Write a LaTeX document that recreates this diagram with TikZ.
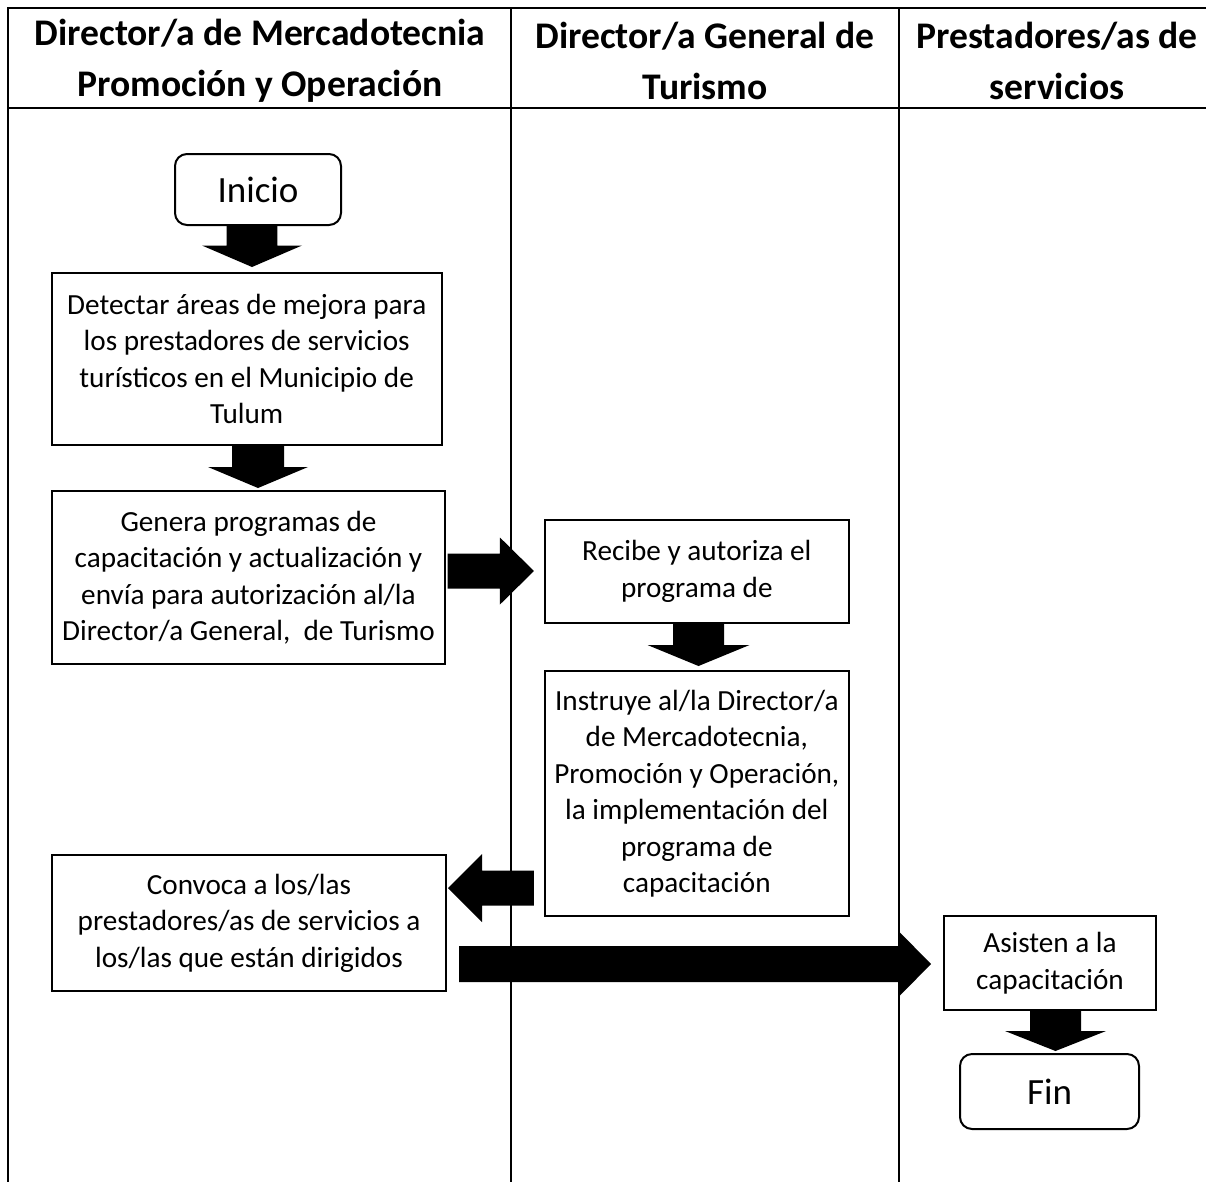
\documentclass[tikz,border=0pt]{standalone}
\usepackage{fontspec}
\setmainfont{Carlito}
\usetikzlibrary{calc}
\tikzset{
  box/.style={draw, line width=2pt, align=center, inner sep=0pt, font=\fontsize{29.2}{36.5}\selectfont},
  term/.style={box, rounded corners=12pt, font=\fontsize{37}{44}\selectfont},
  hdr/.style={align=center, inner sep=0pt, font=\bfseries\fontsize{37.6}{51}\selectfont},
  lane/.style={line width=2pt}
}
% block arrows between named nodes
\newcommand\blkdown[7]{% from,to,x,shaft half,head half,head len,gap
  \fill let \p1=(#1.south), \p2=(#2.north) in
  ({#3pt-#4pt},\y1) -- ({#3pt+#4pt},\y1) -- ({#3pt+#4pt},{\y2+#7pt+#6pt}) -- ({#3pt+#5pt},{\y2+#7pt+#6pt})
  -- (#3pt,{\y2+#7pt}) -- ({#3pt-#5pt},{\y2+#7pt+#6pt}) -- ({#3pt-#4pt},{\y2+#7pt+#6pt}) -- cycle;}
\newcommand\blkright[8]{% from,to,y,shaft half,head half,head len,gap1,gap2
  \fill let \p1=(#1.east), \p2=(#2.west) in
  ({\x1+#7pt},{-#3pt+#4pt}) -- ({\x2-#8pt-#6pt},{-#3pt+#4pt}) -- ({\x2-#8pt-#6pt},{-#3pt+#5pt})
  -- ({\x2-#8pt},-#3pt) -- ({\x2-#8pt-#6pt},{-#3pt-#5pt}) -- ({\x2-#8pt-#6pt},{-#3pt-#4pt}) -- ({\x1+#7pt},{-#3pt-#4pt}) -- cycle;}
\newcommand\blkleft[8]{% from,to,y,shaft half,head half,head len,gap1,gap2
  \fill let \p1=(#1.west), \p2=(#2.east) in
  ({\x1-#7pt},{-#3pt+#4pt}) -- ({\x2+#8pt+#6pt},{-#3pt+#4pt}) -- ({\x2+#8pt+#6pt},{-#3pt+#5pt})
  -- ({\x2+#8pt},-#3pt) -- ({\x2+#8pt+#6pt},{-#3pt-#5pt}) -- ({\x2+#8pt+#6pt},{-#3pt-#4pt}) -- ({\x1-#7pt},{-#3pt-#4pt}) -- cycle;}
\begin{document}
\begin{tikzpicture}[x=1pt, y=-1pt]
\useasboundingbox (0,0) rectangle (1206,1181);
\fill[white] (0,0) rectangle (1206,1181);
% swimlane table
\draw[lane] (8,1200) -- (8,8) -- (1215,8) -- (1215,1200);
\draw[lane] (8,108) -- (1215,108);
\draw[lane] (511,8) -- (511,1200);
\draw[lane] (899,8) -- (899,1200);
\node[hdr] (h1) at (260,60.5) {Director/a de Mercadotecnia\\Promoción y Operación};
\node[hdr] (h2) at (705,60.5) {Director/a General de\\Turismo};
\node[hdr] (h3) at (1057,60.5) {Prestadores/as de\\servicios};
% nodes
\node[term, minimum width=166pt, minimum height=71pt] (ini) at (258,189.5) {Inicio};
\node[box, minimum width=390pt, minimum height=172pt] (b1) at (246.7,359)
  {Detectar áreas de mejora para\\los prestadores de servicios\\turísticos en el Municipio de\\Tulum};
\node[box, minimum width=393pt, minimum height=173pt] (b2) at (248.5,577.5)
  {Genera programas de\\capacitación y actualización y\\envía para autorización al/la\\Director/a General,~ de Turismo};
\node[box, minimum width=303.7pt, minimum height=102.5pt] (b3) at (696.8,571.3)
  {Recibe y autoriza el\\programa de};
\node[box, minimum width=303.7pt, minimum height=245pt] (b4) at (696.8,793.5)
  {Instruye al/la Director/a\\de Mercadotecnia,\\Promoción y Operación,\\la implementación del\\programa de\\capacitación};
\node[box, minimum width=394pt, minimum height=136pt] (b5) at (249,923)
  {Convoca a los/las\\prestadores/as de servicios a\\los/las que están dirigidos};
\node[box, minimum width=212pt, minimum height=94pt] (b6) at (1050,963)
  {Asisten a la\\capacitación};
\node[term, minimum width=179pt, minimum height=75pt] (fin) at (1049.5,1091.5) {Fin};
% connectors
\blkdown{ini}{b1}{252}{25.3}{50}{21.5}{5}
\blkdown{b1}{b2}{258}{26}{50}{21}{2}
\blkright{b2}{b3}{571}{17.5}{33.5}{34}{1.5}{10}
\blkdown{b3}{b4}{698.5}{25.5}{51}{21}{4}
\blkleft{b4}{b5}{888}{17.5}{34}{34}{10}{1}
\blkright{b5}{b6}{964}{18}{33.5}{33}{12}{12}
\blkdown{b6}{fin}{1055.5}{25.5}{50.5}{20}{2}
\end{tikzpicture}
\end{document}
